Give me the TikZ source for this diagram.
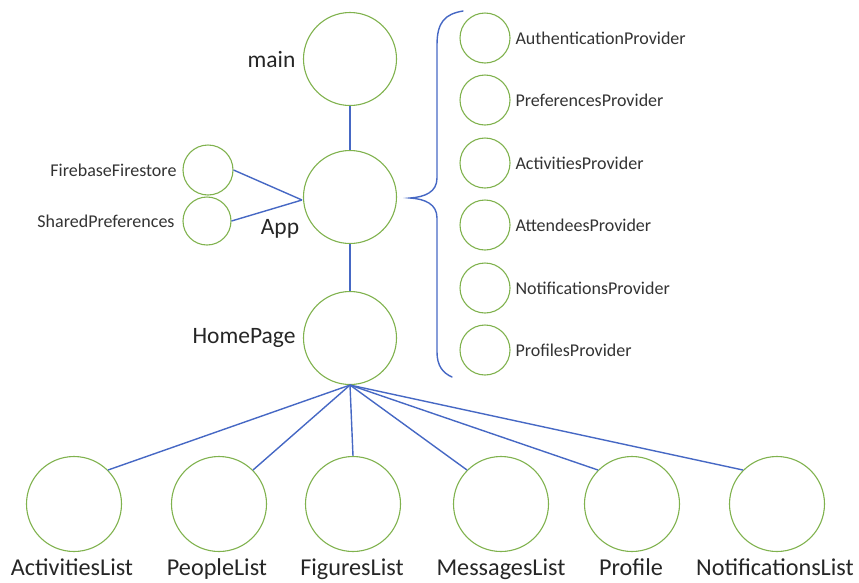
\documentclass[tikz,border=0pt]{standalone}
\usepackage{fontspec}
\setmainfont{Carlito}
\definecolor{circ}{RGB}{128,178,78}
\definecolor{edge}{RGB}{70,104,196}
\begin{document}
\begin{tikzpicture}[x=1pt,y=-1pt,
  big/.style={circle,draw=circ,line width=1.1pt,minimum size=93pt,inner sep=0pt},
  small/.style={circle,draw=circ,line width=1.1pt,minimum size=50pt,inner sep=0pt},
  lbig/.style={font=\fontsize{24.2}{26}\selectfont,text=black!85,inner sep=1pt},
  lmid/.style={font=\fontsize{23.5}{25}\selectfont,text=black!85},
  lsmall/.style={font=\fontsize{18}{20}\selectfont,text=black!80},
  conn/.style={draw=edge,line width=1.4pt},
  bracepath/.style={draw=edge,line width=1.4pt,line cap=round}]
\useasboundingbox (0,0) rectangle (859,582);
% main column
\node[big] (main) at (350,59) {};
\node[big] (app) at (350,197) {};
\node[big] (home) at (350,338) {};
\node[lmid,anchor=east] (mainl) at (299,59) {main};
\node[lmid] (appl) at (280,229) {App};
\node[lmid,anchor=east] (homel) at (299,338) {HomePage};
\draw[conn] (main) -- (app);
\draw[conn] (app) -- (home);
% left deps
\node[small] (fire) at (208,170) {};
\node[small,minimum size=48pt] (shared) at (207,221) {};
\node[lsmall,anchor=east] (firel) at (180,170) {FirebaseFirestore};
\node[lsmall,anchor=east] (sharedl) at (178,221) {SharedPreferences};
\coordinate (appin) at (302,200);
\draw[conn] (fire.east) -- (appin);
\draw[conn] (shared.east) -- (appin);
% brace
\draw[bracepath] (463,11) .. controls (445,14) and (437,22) .. (437,45)
  -- (437,178) .. controls (437,192) and (425,197) .. (410,198)
  .. controls (425,199) and (437,204) .. (437,218)
  -- (437,352) .. controls (437,366) and (443,373) .. (452,377);
% providers
\foreach \n/\y/\t in {p1/38/AuthenticationProvider,p2/100/PreferencesProvider,p3/163/ActivitiesProvider,p4/225/AttendeesProvider,p5/288/NotificationsProvider,p6/350/ProfilesProvider}{
  \node[small] (\n) at (485,\y) {};
  \node[lsmall,anchor=west] (\n l) at (512,\y) {\t};
}
% bottom
\foreach \n/\x/\lx/\t/\a in {c1/74/72/ActivitiesList/north east,c2/219/217/PeopleList/north east,c3/353/352/FiguresList/north,c4/501/501/MessagesList/north west,c5/632/631/Profile/north west,c6/777/775/NotificationsList/north west}{
  \node[big,minimum size=95pt] (\n) at (\x,504) {};
  \node[lbig,anchor=base] (\n l) at (\lx,575) {\t};
  \draw[conn] (home.south) -- (\n.\a);
}
\end{tikzpicture}
\end{document}
